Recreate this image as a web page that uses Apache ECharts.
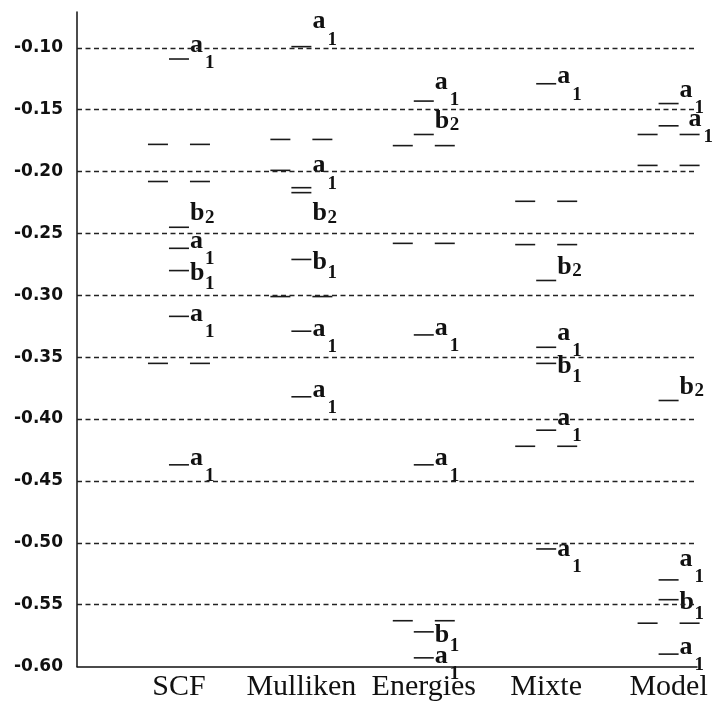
<!DOCTYPE html>
<html>
<head>
<meta charset="utf-8">
<script src="https://cdn.jsdelivr.net/npm/echarts@6/dist/echarts.min.js"></script>
<style>
    html, body { margin: 0; padding: 0; background: #fff; }
    #chart { width: 713px; height: 713px; }
</style>
</head>
<body>
<div id="chart"></div>
<script>
// columns along the bottom
const methods = ['SCF', 'Mulliken', 'Energies', 'Mixte', 'Model'];

// y tick labels
const yTicks = [-0.60, -0.55, -0.50, -0.45, -0.40, -0.35, -0.30, -0.25, -0.20, -0.15, -0.10];

// levels: [energy, side (-1 left, 0 middle, 1 right), symmetry label]
const scfLevels = [
    [-0.109, 0, 'a1'],
    [-0.178, -1, ''], [-0.178, 1, ''],
    [-0.208, -1, ''], [-0.208, 1, ''],
    [-0.245, 0, 'b2'],
    [-0.262, 0, 'a1'],
    [-0.280, 0, 'b1'],
    [-0.317, 0, 'a1'],
    [-0.355, -1, ''], [-0.355, 1, ''],
    [-0.437, 0, 'a1']
];
const mullikenLevels = [
    [-0.099, 0, 'a1'],
    [-0.174, -1, ''], [-0.174, 1, ''],
    [-0.199, -1, ''],
    [-0.213, 0, 'a1'],
    [-0.217, 0, 'b2'],
    [-0.271, 0, 'b1'],
    [-0.301, -1, ''], [-0.301, 1, ''],
    [-0.329, 0, 'a1'],
    [-0.382, 0, 'a1']
];
const energiesLevels = [
    [-0.143, 0, 'a1'],
    [-0.170, 0, 'b2'],
    [-0.179, -1, ''], [-0.179, 1, ''],
    [-0.258, -1, ''], [-0.258, 1, ''],
    [-0.332, 0, 'a1'],
    [-0.437, 0, 'a1'],
    [-0.563, -1, ''], [-0.563, 1, ''],
    [-0.572, 0, 'b1'],
    [-0.593, 0, 'a1']
];
const mixteLevels = [
    [-0.129, 0, 'a1'],
    [-0.224, -1, ''], [-0.224, 1, ''],
    [-0.259, -1, ''], [-0.259, 1, ''],
    [-0.288, 0, 'b2'],
    [-0.342, 0, 'a1'],
    [-0.355, 0, 'b1'],
    [-0.409, 0, 'a1'],
    [-0.422, -1, ''], [-0.422, 1, ''],
    [-0.505, 0, 'a1']
];
const modelLevels = [
    [-0.145, 0, 'a1'],
    [-0.163, 0, 'a1'],
    [-0.170, -1, ''], [-0.170, 1, ''],
    [-0.195, -1, ''], [-0.195, 1, ''],
    [-0.385, 0, 'b2'],
    [-0.530, 0, 'a1'],
    [-0.546, 0, 'b1'],
    [-0.565, -1, ''], [-0.565, 1, ''],
    [-0.590, 0, 'a1']
];

const allLevels = [scfLevels, mullikenLevels, energiesLevels, mixteLevels, modelLevels];

// where the letter and subscript sit, relative to the dash (px)
const symStyle = {
    a1: { letterDy: -7, subDy: 11 },
    b1: { letterDy: 3, subDy: 14 },
    b2: { letterDy: -13.5, subDy: -9 }
};

// labels moved by hand in the original, [dx, dy] px
const labelNudge = {
    'SCF|-0.109': [0, -7],
    'SCF|-0.317': [0, 5],
    'Mulliken|-0.099': [0, -18],
    'Mulliken|-0.213': [0, -15],
    'Mulliken|-0.217': [0, 34],
    'Mulliken|-0.329': [0, 5],
    'Energies|-0.143': [0, -12],
    'Energies|-0.593': [0, 5],
    'Mixte|-0.342': [0, -7],
    'Mixte|-0.409': [0, -5],
    'Mixte|-0.505': [0, 7],
    'Model|-0.145': [0, -6],
    'Model|-0.163': [9, 0],
    'Model|-0.53': [0, -14]
};

// flatten for the custom series
const items = [];
allLevels.forEach((levels, col) => {
    levels.forEach(l => {
        items.push({
            value: [col + 1, l[0]],
            side: l[1],
            sym: l[2],
            nudge: labelNudge[methods[col] + '|' + l[0]] || [0, 0]
        });
    });
});

const chart = echarts.init(document.getElementById('chart'));

chart.setOption({
    animation: false,
    backgroundColor: '#fff',
    grid: {
        left: 77,
        right: 16,
        top: 12,
        bottom: 46.5,
        containLabel: false,
        outerBoundsMode: 'none'
    },
    xAxis: {
        type: 'value',
        min: 0.167,
        max: 5.232,
        axisLine: { show: true, onZero: false, lineStyle: { color: '#111', width: 1.5 } },
        axisTick: { show: false },
        splitLine: { show: false },
        axisLabel: {
            customValues: methods.map((m, i) => i + 1),
            formatter: v => methods[Math.round(v) - 1],
            fontFamily: 'Liberation Serif',
            fontSize: 30,
            color: '#111',
            margin: 6
        }
    },
    yAxis: {
        type: 'value',
        min: -0.60,
        max: -0.071,
        axisLine: { show: true, onZero: false, lineStyle: { color: '#111', width: 1.5 } },
        axisTick: { show: false },
        splitLine: { show: false },
        axisLabel: {
            customValues: yTicks,
            formatter: v => v.toFixed(2),
            fontFamily: 'DejaVu Sans',
            fontWeight: 'bold',
            fontSize: 17,
            color: '#111',
            margin: 14
        }
    },
    series: [
        {
            // dashed guide lines at each labelled energy
            type: 'line',
            data: [],
            markLine: {
                silent: true,
                symbol: 'none',
                label: { show: false },
                lineStyle: { type: [5, 3.5], color: '#222', width: 1.3 },
                data: yTicks.filter(v => v > -0.6).map(v => ({ yAxis: v }))
            }
        },
        {
            type: 'custom',
            clip: false,
            encode: { x: 0, y: 1 },
            data: items.map(it => it.value),
            renderItem: function (params, api) {
                const it = items[params.dataIndex];
                const p = api.coord([api.value(0), api.value(1)]);
                const cx = p[0] + it.side * 21;
                const y = p[1];
                const children = [{
                    type: 'line',
                    shape: { x1: cx - 10, y1: y, x2: cx + 10, y2: y },
                    style: { stroke: '#1a1a1a', lineWidth: 1.6 }
                }];
                if (it.sym) {
                    const st = symStyle[it.sym];
                    const xl = cx + 11 + it.nudge[0];
                    children.push({
                        type: 'text',
                        x: xl,
                        y: y + st.letterDy + it.nudge[1],
                        style: {
                            text: it.sym[0],
                            font: 'bold 26px "Liberation Serif"',
                            fill: '#111',
                            align: 'left',
                            verticalAlign: 'middle'
                        }
                    });
                    children.push({
                        type: 'text',
                        x: xl + 15,
                        y: y + st.subDy + it.nudge[1],
                        style: {
                            text: it.sym.slice(1),
                            font: 'bold 19px "Liberation Serif"',
                            fill: '#111',
                            align: 'left',
                            verticalAlign: 'middle'
                        }
                    });
                }
                return { type: 'group', children: children };
            }
        }
    ]
});
</script>
</body>
</html>
